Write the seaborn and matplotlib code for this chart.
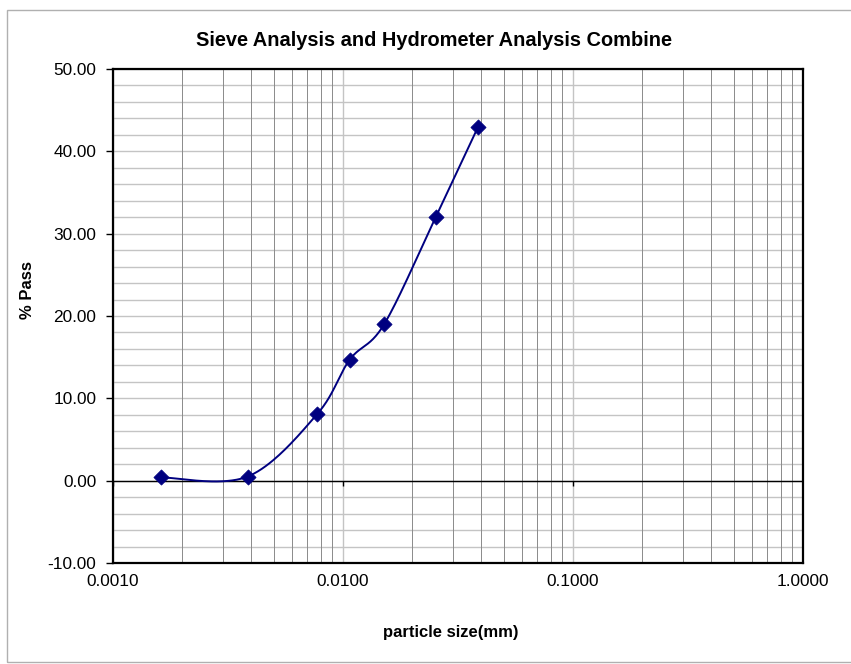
import numpy as np
import pandas as pd
import matplotlib
matplotlib.use("Agg")
import matplotlib.pyplot as plt
from matplotlib.patches import Rectangle
from matplotlib.ticker import FixedLocator, NullFormatter, LogLocator
import seaborn as sns

# Combined sieve / hydrometer results
size_mm = [0.00162, 0.00385, 0.00773, 0.0107, 0.0151, 0.0253, 0.0387]
pct_pass = [0.4, 0.5, 8.1, 14.7, 19.0, 32.0, 43.0]

x_ticks = [0.001, 0.01, 0.1, 1.0]
x_tick_labels = ["0.0010", "0.0100", "0.1000", "1.0000"]
y_ticks = [-10, 0, 10, 20, 30, 40, 50]
y_tick_labels = ["-10.00", "0.00", "10.00", "20.00", "30.00", "40.00", "50.00"]

title = "Sieve Analysis and Hydrometer Analysis Combine"
x_label = "particle size(mm)"
y_label = "% Pass"

df = pd.DataFrame({"size": size_mm, "pass": pct_pass})

sns.set_theme(style="white")
plt.rcParams["font.family"] = ["Liberation Sans", "DejaVu Sans"]
plt.rcParams["text.color"] = "black"

W, H = 851, 664
fig = plt.figure(figsize=(W / 100, H / 100), dpi=100)
L, R, T, B = 113, 803, 69, 563
ax = fig.add_axes([L / W, 1 - B / H, (R - L) / W, (B - T) / H])
ax.set_xscale("log")
ax.set_xlim(0.001, 1.0)
ax.set_ylim(-10, 50)

# grid: horizontal every 2 %, vertical at every log step
for yv in np.arange(-10, 51, 2):
    ax.axhline(yv, color="#c4c4c4", lw=1.0, zorder=0)
for dec in [0.001, 0.01, 0.1]:
    for m in range(2, 10):
        ax.axvline(dec * m, color="#8a8a8a", lw=0.7, zorder=0)
    ax.axvline(dec, color="#c4c4c4", lw=1.0, zorder=0)
ax.axhline(0, color="black", lw=1.0, zorder=1)


def smooth_curve(xs, ys, ax, n=40):
    """Bezier smoothing in display space, like a spreadsheet smoothed line."""
    pts = ax.transData.transform(np.column_stack([xs, ys]))
    out = []
    k = len(pts)
    for i in range(k - 1):
        p0 = pts[i - 1] if i > 0 else pts[i]
        p1 = pts[i]
        p2 = pts[i + 1]
        p3 = pts[i + 2] if i + 2 < k else pts[i + 1]
        c1 = p1 + (p2 - p0) / 6.0
        c2 = p2 - (p3 - p1) / 6.0
        t = np.linspace(0, 1, n)[:, None]
        seg = ((1 - t) ** 3) * p1 + 3 * ((1 - t) ** 2) * t * c1 + 3 * (1 - t) * t ** 2 * c2 + t ** 3 * p2
        out.append(seg if i == 0 else seg[1:])
    curve = np.vstack(out)
    return ax.transData.inverted().transform(curve)


fig.canvas.draw()
curve = smooth_curve(df["size"].values, df["pass"].values, ax)
ax.plot(curve[:, 0], curve[:, 1], color="#000080", lw=1.4, zorder=3)
sns.scatterplot(data=df, x="size", y="pass", ax=ax, marker="D", s=60,
                color="#000080", edgecolor="#000080", linewidth=0.5, zorder=4, legend=False)

# tick marks on the zero line at each decade
ax.vlines(x_ticks, 0, -0.6, color="black", lw=1.0, zorder=2)

ax.xaxis.set_major_locator(FixedLocator(x_ticks))
ax.set_xticklabels(x_tick_labels)
ax.xaxis.set_minor_locator(LogLocator(base=10, subs=np.arange(2, 10)))
ax.xaxis.set_minor_formatter(NullFormatter())
ax.set_yticks(y_ticks)
ax.set_yticklabels(y_tick_labels)
ax.tick_params(axis="x", which="both", length=0, pad=8, labelsize=12.4,
               colors="black", labelcolor="black")
ax.tick_params(axis="y", which="major", length=5, width=1.0, direction="out",
               pad=7, labelsize=12.4, colors="black", labelcolor="black", left=True)
for s in ax.spines.values():
    s.set_color("black")
    s.set_linewidth(1.6)
ax.set_xlabel("")
ax.set_ylabel("")

fig.text(434 / W, 1 - 40 / H, title, ha="center", va="center",
         fontsize=14.4, fontweight="bold", color="black")
fig.text(451 / W, 1 - 633 / H, x_label, ha="center", va="center",
         fontsize=12, fontweight="bold", color="black")
fig.text(27 / W, 1 - 290 / H, y_label, ha="center", va="center",
         rotation=90, fontsize=12, fontweight="bold", color="black")

# outer chart frame
fig.patches.append(Rectangle((7 / W, 1 - 662 / H), (860 - 7) / W, (662 - 10) / H,
                             transform=fig.transFigure, fill=False,
                             edgecolor="#b0b0b0", lw=1.0))

fig.savefig("out.png", dpi=100)
